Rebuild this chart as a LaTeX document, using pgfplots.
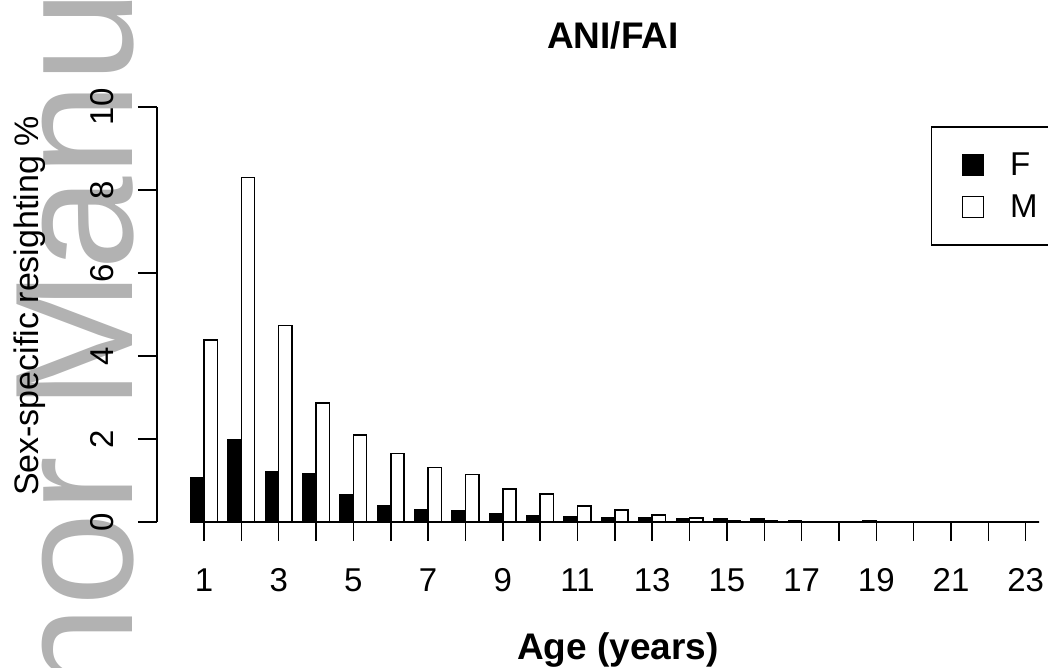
\documentclass[border=0pt]{standalone}
\usepackage{pgfplots}
\pgfplotsset{compat=1.18}
\usepackage{fontspec}
\setmainfont{Liberation Sans}
\definecolor{wm}{RGB}{178,178,178}
\newcommand{\ft}{\fontsize{33}{33}\selectfont}
\newcommand{\fl}{\fontsize{34}{34}\selectfont}
\newcommand{\fb}{\fontsize{37}{37}\selectfont\bfseries}
\pgfplotsset{mylegend/.style={legend image code/.code={\draw[##1] (0pt,-10.5pt) rectangle (21pt,10.5pt);}}}
\begin{document}
\begin{tikzpicture}
\useasboundingbox (0,0) rectangle (1048pt,668pt);
\clip (0,0) rectangle (1048pt,668pt);
\node[rotate=90, anchor=base west, inner sep=0pt, text=wm, font=\fontsize{168}{168}\selectfont] at (132pt,-284pt) {Author Manuscript};
\begin{axis}[
  at={(157pt,146pt)}, anchor=south west,
  scale only axis, width=887.4pt, height=415pt,
  xmin=-0.2584, xmax=23.5, ymin=0, ymax=10,
  clip=false,
  axis line style={draw=none},
  xtick={1,...,23},
  xticklabels={1,,3,,5,,7,,9,,11,,13,,15,,17,,19,,21,,23},
  ytick={0,2,4,6,8,10}, yticklabels={0,2,4,6,8,10},
  xtick pos=left, ytick pos=left,
  tick align=outside, major tick length=19pt,
  tick style={black, line width=1.5pt},
  xticklabel style={font=\ft, inner sep=0pt, anchor=base, yshift=-51pt},
  yticklabel style={font=\ft, xshift=-24pt, rotate=90, anchor=south, inner sep=0pt},
  ybar=0pt, bar width=13.3pt,
  title={ANI/FAI},
  title style={font=\fb, at={(axis description cs:0.5139,1.1253)}, anchor=base, inner sep=0pt},
  xlabel={Age (years)},
  xlabel style={font=\fb, at={(axis description cs:0.5195,-0.3325)}, anchor=base, inner sep=0pt},
  ylabel={Sex-specific resighting \%},
  ylabel style={font=\fl, at={(axis description cs:-0.1330,0.5205)}, anchor=base, inner sep=0pt},
  legend style={at={(axis description cs:0.8722,0.954)}, anchor=north west, draw=black, line width=1.5pt,
    inner xsep=30pt, inner ysep=26pt, font=\ft, row sep=18pt, column sep=26pt,
    cells={anchor=west}, nodes={inner sep=0pt}},
]
\addplot[fill=black, draw=black, line width=1.5pt, mylegend] coordinates {
(1,1.07) (2,1.99) (3,1.22) (4,1.16) (5,0.66) (6,0.39) (7,0.30) (8,0.26)
(9,0.20) (10,0.14) (11,0.13) (12,0.10) (13,0.10) (14,0.07) (15,0.07) (16,0.07)
(17,0.04) (18,0) (19,0.04) (20,0) (21,0) (22,0) (23,0)};
\addplot[fill=white, draw=black, line width=1.5pt, mylegend] coordinates {
(1,4.39) (2,8.30) (3,4.73) (4,2.87) (5,2.10) (6,1.65) (7,1.31) (8,1.14)
(9,0.80) (10,0.68) (11,0.38) (12,0.29) (13,0.17) (14,0.10) (15,0.04) (16,0.03)
(17,0) (18,0) (19,0) (20,0) (21,0) (22,0) (23,0)};
\legend{F,M}
\draw[line width=1.5pt, black] (axis cs:0.644,0) -- (axis cs:23.356,0);
\draw[line width=1.5pt, black] (rel axis cs:0,0) -- (rel axis cs:0,1);
\end{axis}
\end{tikzpicture}
\end{document}
